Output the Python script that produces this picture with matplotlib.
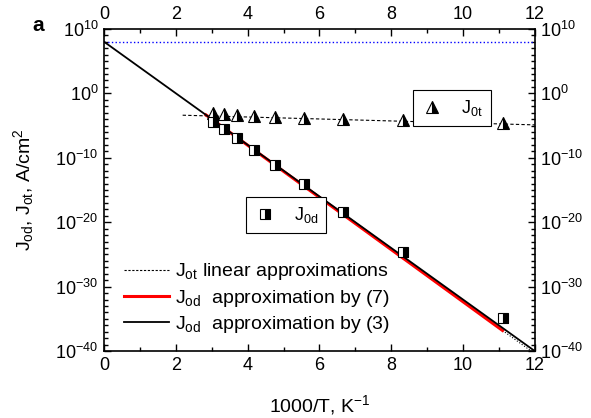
import numpy as np
import matplotlib.pyplot as plt
from matplotlib.lines import Line2D
from matplotlib.legend import Legend

plt.rcParams['font.family'] = ['Liberation Sans', 'DejaVu Sans']
plt.rcParams['mathtext.fontset'] = 'custom'
plt.rcParams['mathtext.rm'] = 'Liberation Sans'
plt.rcParams['mathtext.it'] = 'Liberation Sans'
plt.rcParams['mathtext.bf'] = 'Liberation Sans:bold'

# measured points, 1000/T and log10 of current density
x_pts = [3.03, 3.33, 3.70, 4.17, 4.76, 5.56, 6.67, 8.33, 11.11]
log_j0t = [-3.09, -3.2, -3.35, -3.5, -3.6, -3.87, -4.0, -4.1, -4.55]
log_j0d = [-4.4, -5.5, -7.0, -8.8, -11.2, -14.1, -18.4, -24.6, -34.9]

# approximation lines (x ends, log10 y ends)
x_lin3 = [0, 12]
log_lin3 = [8, -40]
x_lin7 = [2.84, 11.1]
log_lin7 = [-3.36, -36.8]
x_dot_od = [11.1, 12]
log_dot_od = [-36.8, -40.4]
x_lin_t = [2.19, 12]
log_lin_t = [-3.4, -4.9]
log_blue = 8

fig = plt.figure(figsize=(5.91, 4.18), dpi=100)
ax = fig.add_axes([0.176, 0.160, 0.729, 0.771])

ax.axhline(10.0**log_blue, color='blue', ls=':', lw=1)
ax.plot(x_lin_t, 10.0**np.array(log_lin_t), 'k--', lw=0.8, dashes=(3, 2))
ax.plot(x_dot_od, 10.0**np.array(log_dot_od), 'k:', lw=0.8)
l7, = ax.plot(x_lin7, 10.0**np.array(log_lin7), color='red', lw=2.2)
l3, = ax.plot(x_lin3, 10.0**np.array(log_lin3), color='black', lw=1.3)

mt, = ax.plot(x_pts, 10.0**np.array(log_j0t), ls='none', marker='^', ms=9,
              fillstyle='right', markerfacecolor='black', markerfacecoloralt='white',
              markeredgecolor='black', mew=0.8)
md, = ax.plot(x_pts, 10.0**np.array(log_j0d), ls='none', marker='s', ms=7,
              fillstyle='right', markerfacecolor='black', markerfacecoloralt='white',
              markeredgecolor='black', mew=0.8)

ax.set_yscale('log')
ax.set_xlim(0, 12)
ax.set_ylim(1e-40, 1e10)
ax.set_xticks(np.arange(0, 13, 2))
ax.set_xticks(np.arange(0, 13, 1), minor=True)
ax.set_yticks([10.0**k for k in range(-40, 11, 10)])
ax.set_yticks([10.0**k for k in range(-40, 11)], minor=True)
ax.set_yticklabels([r'$10^{%d}$' % k for k in range(-40, 11, 10)])
ax.yaxis.set_minor_formatter(plt.NullFormatter())
ax.tick_params(which='both', direction='in', top=True, right=True,
               labeltop=True, labelright=True, labelsize=13, width=1)
ax.tick_params(which='major', length=5, pad=4)
ax.tick_params(which='minor', length=3)
for s in ax.spines.values():
    s.set_linewidth(1.2)

ax.set_xlabel(r'1000/T, K$^{-1}$', fontsize=14, labelpad=14)
ax.set_ylabel(r'J$_{od}$, J$_{ot}$, A/cm$^2$', fontsize=14, labelpad=14)
fig.text(0.055, 0.925, 'a', fontsize=15, fontweight='bold')

h_t = Line2D([], [], ls='--', color='k', lw=0.8, dashes=(2, 1.5))
leg = ax.legend([h_t, l7, l3],
                [r'J$_{ot}$ linear approximations',
                 r'J$_{od}$  approximation by (7)',
                 r'J$_{od}$  approximation by (3)'],
                loc='lower left', bbox_to_anchor=(0.029, 0.025), borderaxespad=0,
                frameon=False, fontsize=14, handlelength=2.3, handletextpad=0.3,
                labelspacing=0.28)

box_kw = dict(loc='upper left', borderaxespad=0, fontsize=13, fancybox=False,
              edgecolor='black', framealpha=1, handletextpad=1.0,
              borderpad=0.45, handlelength=1.2)
leg_t = Legend(ax, [mt], [r'J$_{0t}$'], bbox_to_anchor=(0.718, 0.811), **box_kw)
leg_t.get_frame().set_linewidth(0.8)
ax.add_artist(leg_t)
leg_d = Legend(ax, [md], [r'J$_{0d}$'], bbox_to_anchor=(0.329, 0.479), **box_kw)
leg_d.get_frame().set_linewidth(0.8)
ax.add_artist(leg_d)

fig.savefig('out.png', dpi=100)
